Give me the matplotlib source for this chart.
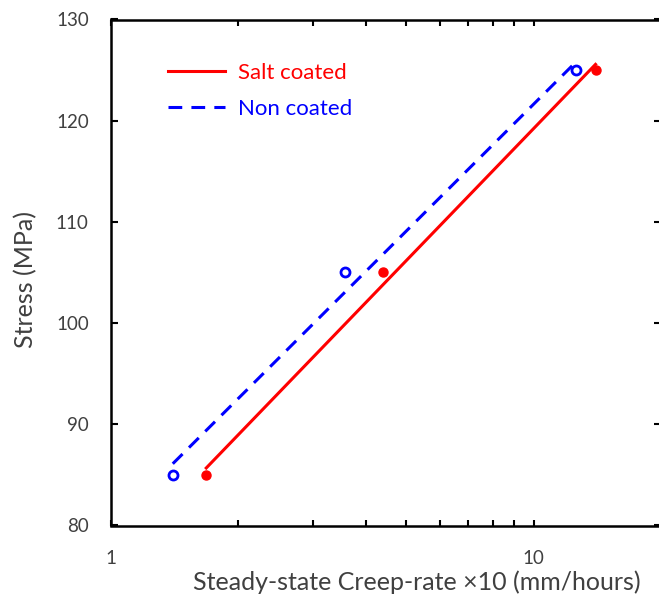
import numpy as np
import matplotlib
matplotlib.use("Agg")
import matplotlib.pyplot as plt
from matplotlib.ticker import LogLocator, NullFormatter, FixedLocator

plt.rcParams['font.family'] = ['Lato', 'DejaVu Sans']

# Steady-state creep rate (x10 mm/hours) vs stress (MPa)
stress = [85, 105, 125]
rate_salt = [1.68, 4.39, 14.0]
rate_non = [1.40, 3.58, 12.6]

text_gray = '#404040'

fig = plt.figure(figsize=(6.59, 5.95), dpi=100)
ax = fig.add_axes([111 / 659, 69.5 / 595, 550 / 659, 506 / 595])

# logarithmic trend lines (stress = a*log10(rate) + b)
for rates, color, ls, label in [(rate_salt, 'red', '-', 'Salt coated'),
                                (rate_non, 'blue', (0, (4.5, 3)), 'Non coated')]:
    a, b = np.polyfit(np.log10(rates), stress, 1)
    xs = np.array([min(rates), max(rates)])
    ax.plot(xs, a * np.log10(xs) + b, color=color, ls=ls, lw=2.2, label=label)

ax.plot(rate_salt, stress, 'o', color='red', ms=6.5, zorder=3)
ax.plot(rate_non, stress, 'o', mfc='white', mec='blue', mew=2, ms=6.5, zorder=3)

ax.set_xscale('log')
ax.set_xlim(1, 20)
ax.set_ylim(80, 130)
ax.yaxis.set_major_locator(FixedLocator([80, 90, 100, 110, 120, 130]))
ax.xaxis.set_major_locator(FixedLocator([1, 10]))
ax.xaxis.set_minor_locator(LogLocator(base=10, subs=np.arange(2, 10)))
ax.xaxis.set_minor_formatter(NullFormatter())
ax.set_xticklabels(['1', '10'])

for s in ['left', 'bottom', 'top']:
    ax.spines[s].set_linewidth(1.8)
ax.spines['right'].set_visible(False)

ax.tick_params(axis='both', which='major', direction='in', length=4, width=1.5,
               labelsize=13.5, labelcolor=text_gray, top=True, right=True, pad=16)
ax.tick_params(axis='y', which='major', length=5)
ax.tick_params(axis='x', which='minor', direction='in', length=4, width=1.5,
               top=True)
ax.tick_params(axis='x', which='major', pad=17.5)

ax.set_xlabel('Steady-state Creep-rate \u00d710 (mm/hours)', fontsize=18, color=text_gray)
ax.set_ylabel('Stress (MPa)', fontsize=18, color=text_gray)
ax.xaxis.set_label_coords(0.556, -0.088)
ax.yaxis.set_label_coords(-0.1345, 0.487)

ax.legend(loc='upper left', bbox_to_anchor=(0.1036, 0.915), frameon=False,
          fontsize=16, handlelength=2.57, handletextpad=0.56, labelspacing=0.74,
          labelcolor='linecolor', borderpad=0, borderaxespad=0)

fig.savefig('out.png', dpi=100)
